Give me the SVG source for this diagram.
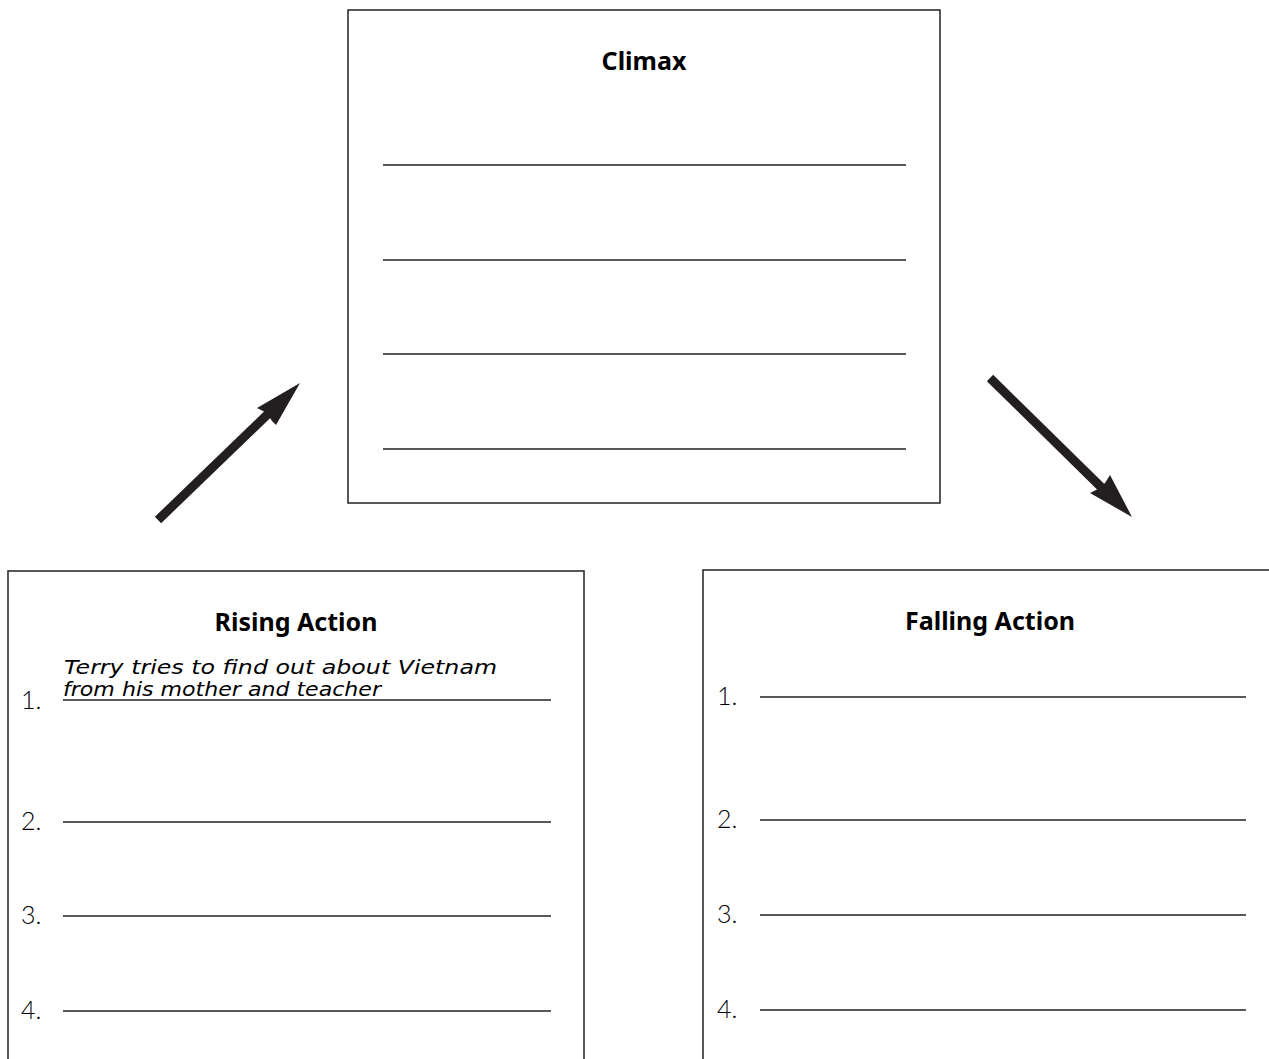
<svg xmlns="http://www.w3.org/2000/svg" width="1269" height="1059" viewBox="0 0 1269 1059">
<style>
.box{fill:#fff;stroke:#231f20;stroke-width:1.5}
.rule{stroke:#231f20;stroke-width:1.5}
.head{font-family:"Noto Sans","Open Sans",sans-serif;font-weight:bold;font-size:25px;fill:#000;text-anchor:middle}
.num{font-family:Lato,"Liberation Sans",sans-serif;font-weight:300;font-size:25px;fill:#000}
.hand{font-family:"DejaVu Sans","Liberation Sans",sans-serif;font-style:italic;font-size:19px;fill:#000}
.arr{stroke:#231f20;stroke-width:9;fill:none}
.head-fill{fill:#231f20}
</style>
<rect width="1269" height="1059" fill="#fff"/>
<g id="climax">
<rect class="box" x="348" y="10" width="592" height="493"/>
<text class="head" x="644" y="70">Climax</text>
<line class="rule" x1="383" y1="165" x2="906" y2="165"/>
<line class="rule" x1="383" y1="260" x2="906" y2="260"/>
<line class="rule" x1="383" y1="354" x2="906" y2="354"/>
<line class="rule" x1="383" y1="449" x2="906" y2="449"/>
</g>
<g id="rising">
<rect class="box" x="8" y="571" width="576" height="520"/>
<text class="head" x="296" y="631">Rising Action</text>
<text class="hand" x="64" y="674" textLength="433" lengthAdjust="spacingAndGlyphs">Terry tries to find out about Vietnam</text>
<text class="hand" x="63" y="696" textLength="318" lengthAdjust="spacingAndGlyphs">from his mother and teacher</text>
<text class="num" x="21" y="709" font-size="20">1.</text>
<line class="rule" x1="63" y1="700" x2="551" y2="700"/>
<text class="num" x="21" y="830">2.</text>
<line class="rule" x1="63" y1="822" x2="551" y2="822"/>
<text class="num" x="21" y="924">3.</text>
<line class="rule" x1="63" y1="916" x2="551" y2="916"/>
<text class="num" x="21" y="1019">4.</text>
<line class="rule" x1="63" y1="1011" x2="551" y2="1011"/>
</g>
<g id="falling">
<rect class="box" x="703" y="570" width="600" height="520"/>
<text class="head" x="990" y="630">Falling Action</text>
<text class="num" x="717" y="705">1.</text>
<line class="rule" x1="760" y1="697" x2="1246" y2="697"/>
<text class="num" x="717" y="828">2.</text>
<line class="rule" x1="760" y1="820" x2="1246" y2="820"/>
<text class="num" x="717" y="923">3.</text>
<line class="rule" x1="760" y1="915" x2="1246" y2="915"/>
<text class="num" x="717" y="1018">4.</text>
<line class="rule" x1="760" y1="1010" x2="1246" y2="1010"/>
</g>
<g id="connectors">
<line class="arr" x1="158" y1="520" x2="270" y2="412"/>
<polygon class="head-fill" points="300,383 257,408 267,413 272,421 276,425"/>
<line class="arr" x1="990" y1="378" x2="1102" y2="488"/>
<polygon class="head-fill" points="1132,517 1110,475 1105,483 1098,489 1090,493"/>
</g>
</svg>
